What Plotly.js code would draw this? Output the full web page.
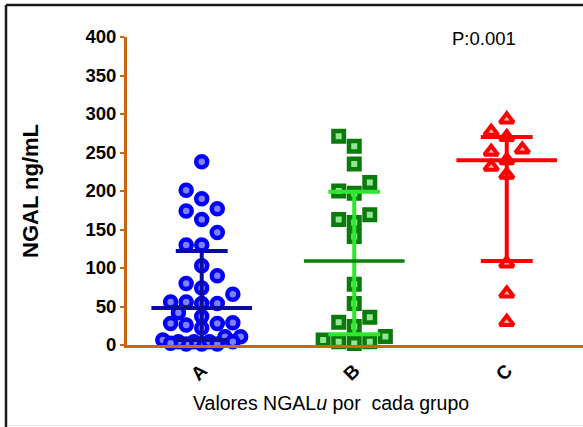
<!DOCTYPE html>
<html>
<head>
<meta charset="utf-8">
<script src="https://cdn.plot.ly/plotly-3.0.1.min.js"></script>
<style>html,body{margin:0;padding:0;background:#fff;}#chart{width:583px;height:427px;}</style>
</head>
<body>
<div id="chart"></div>
<script>
// ---- data ----
const categories = ['A', 'B', 'C'];
const groupA = [238, 201, 190, 177, 174, 163, 146, 130, 130, 103, 90, 80, 74, 66, 56, 54, 54, 56, 42, 37,
                28, 26, 22, 28, 29, 10.8, 10.8, 4.3, 6.5, 1.3, 4.3, 1.3, 4.3, 1.3, 4.3, 2.2];
const groupB = [271, 258, 235, 211, 200, 197, 169, 163, 159, 141, 79, 54, 36, 29.5, 24, 11, 6.5, 4.3, 4.3, 2];
const groupC = [293, 277, 270, 254, 251, 240, 231.5, 221, 106, 67, 30];
const medians = [48, 109, 240];
const lowerQ = [6.5, 14, 109];
const upperQ = [122, 199, 270];
const yTickVals = [0, 50, 100, 150, 200, 250, 300, 350, 400];
const pText = 'P:0.001';
const xTitle = 'Valores NGAL<i>u</i> por\u00a0 cada grupo';
const yTitle = 'NGAL ng/mL';

// ---- styling / layout constants ----
const ORANGE = '#c8680c';
const X_RANGE = [-0.49, 2.5], Y_RANGE = [0, 400];
const L = 127, T = 37, W = 456, H = 308;
const X_PX = W / (X_RANGE[1] - X_RANGE[0]);
const Y_PX = H / (Y_RANGE[1] - Y_RANGE[0]);
const STEP = 0.102;          // column step in x units
const MIN_DIST = 13;         // px between marker centres
const MED_HALF = 0.33, CAP_HALF = 0.17;

// simple beeswarm: place points (ascending) at the first free column offset
function swarm(vals, center) {
  const order = vals.map((v, i) => i).sort((a, b) => vals[a] - vals[b]);
  const placed = [];
  const xs = new Array(vals.length);
  const minDist = (off, v) => {
    let m = Infinity;
    placed.forEach(p => {
      const dx = (off - p.off) * STEP * X_PX, dy = (v - p.v) * Y_PX;
      m = Math.min(m, Math.hypot(dx, dy));
    });
    return m;
  };
  order.forEach(i => {
    const v = vals[i];
    let chosen = null;
    for (const k of [0, -1, 1, -2, 2]) {
      if (minDist(k, v) >= MIN_DIST) { chosen = k; break; }
    }
    if (chosen === null) {
      let best = -1;
      for (const k of [0, -0.5, 0.5, -1, 1, -1.5, 1.5, -2, 2, -2.5, 2.5]) {
        const d = minDist(k, v);
        if (d > best + 0.01) { best = d; chosen = k; }
      }
    }
    placed.push({off: chosen, v: v});
    xs[i] = center + chosen * STEP;
  });
  return xs;
}

const groups = [groupA, groupB, groupC];
const markerStyles = [
  {symbol: 'circle', size: 11, color: '#8080ff', line: {color: '#0000ff', width: 4.5}},
  {symbol: 'square', size: 10.5, color: '#90e890', line: {color: '#0a7a0a', width: 4.5}},
  {symbol: 'triangle-up', size: 12, color: '#ffb0b0', line: {color: '#ff0000', width: 4}}
];
const medColors = ['#0b0b9e', '#0a800a', '#ff0000'];
const medWidths = [4, 3.5, 4];
const whiskColors = ['#0b0b9e', '#2ee82e', '#ff0000'];

const traces = [];
groups.forEach((vals, g) => {
  traces.push({
    type: 'scatter', mode: 'markers', x: swarm(vals, g), y: vals,
    marker: markerStyles[g], cliponaxis: false, showlegend: false, hoverinfo: 'y'
  });
});
groups.forEach((vals, g) => {
  traces.push({
    type: 'scatter', mode: 'lines',
    x: [g, g, null, g - CAP_HALF, g + CAP_HALF, null, g - CAP_HALF, g + CAP_HALF],
    y: [lowerQ[g], upperQ[g], null, lowerQ[g], lowerQ[g], null, upperQ[g], upperQ[g]],
    line: {color: whiskColors[g], width: 4}, cliponaxis: false, showlegend: false, hoverinfo: 'skip'
  });
  traces.push({
    type: 'scatter', mode: 'lines',
    x: [g - MED_HALF, g + MED_HALF], y: [medians[g], medians[g]],
    line: {color: medColors[g], width: medWidths[g]}, cliponaxis: false, showlegend: false, hoverinfo: 'skip'
  });
});

const px = x => (x - L) / W;
const py = y => (T + H - y) / H;

const layout = {
  width: 583, height: 427,
  margin: {l: L, r: 0, t: T, b: 427 - T - H, pad: 0},
  paper_bgcolor: '#ffffff', plot_bgcolor: '#ffffff',
  font: {family: 'Liberation Sans, Arial, sans-serif', color: '#000'},
  xaxis: {
    range: X_RANGE, tickvals: [0, 1, 2], ticktext: categories, tickangle: -45,
    showline: true, linecolor: ORANGE, linewidth: 3, ticks: '', showgrid: false, zeroline: false,
    tickfont: {size: 19, weight: 'bold', color: '#000'}, ticklabelstandoff: 4
  },
  yaxis: {
    range: Y_RANGE, tickvals: yTickVals, ticks: 'outside', ticklen: 4, tickwidth: 2, tickcolor: ORANGE,
    showline: true, linecolor: ORANGE, linewidth: 3, showgrid: false, zeroline: false,
    tickfont: {size: 18.5, weight: 'bold', color: '#000'}, ticklabelstandoff: 0,
    title: {text: yTitle, font: {size: 22, weight: 'bold', color: '#000'}, standoff: 41}
  },
  annotations: [
    {text: pText, xref: 'paper', yref: 'paper', x: px(483.5), y: py(38), xanchor: 'center', yanchor: 'middle',
     showarrow: false, font: {size: 18.5, color: '#000'}},
    {text: xTitle, xref: 'paper', yref: 'paper', x: px(331), y: py(403), xanchor: 'center', yanchor: 'middle',
     showarrow: false, font: {size: 19.5, color: '#000'}}
  ],
  shapes: [
    {type: 'line', xref: 'paper', yref: 'paper', x0: px(6), x1: px(583), y0: py(5), y1: py(5), line: {color: '#1a1a1a', width: 2.5}},
    {type: 'line', xref: 'paper', yref: 'paper', x0: px(6), x1: px(6), y0: py(5), y1: py(427), line: {color: '#1a1a1a', width: 2.5}},
    {type: 'line', xref: 'paper', yref: 'paper', x0: px(7), x1: px(583), y0: py(425.5), y1: py(425.5), line: {color: '#e2e2e2', width: 1}}
  ]
};

Plotly.newPlot('chart', traces, layout, {staticPlot: true, displayModeBar: false});
</script>
</body>
</html>
